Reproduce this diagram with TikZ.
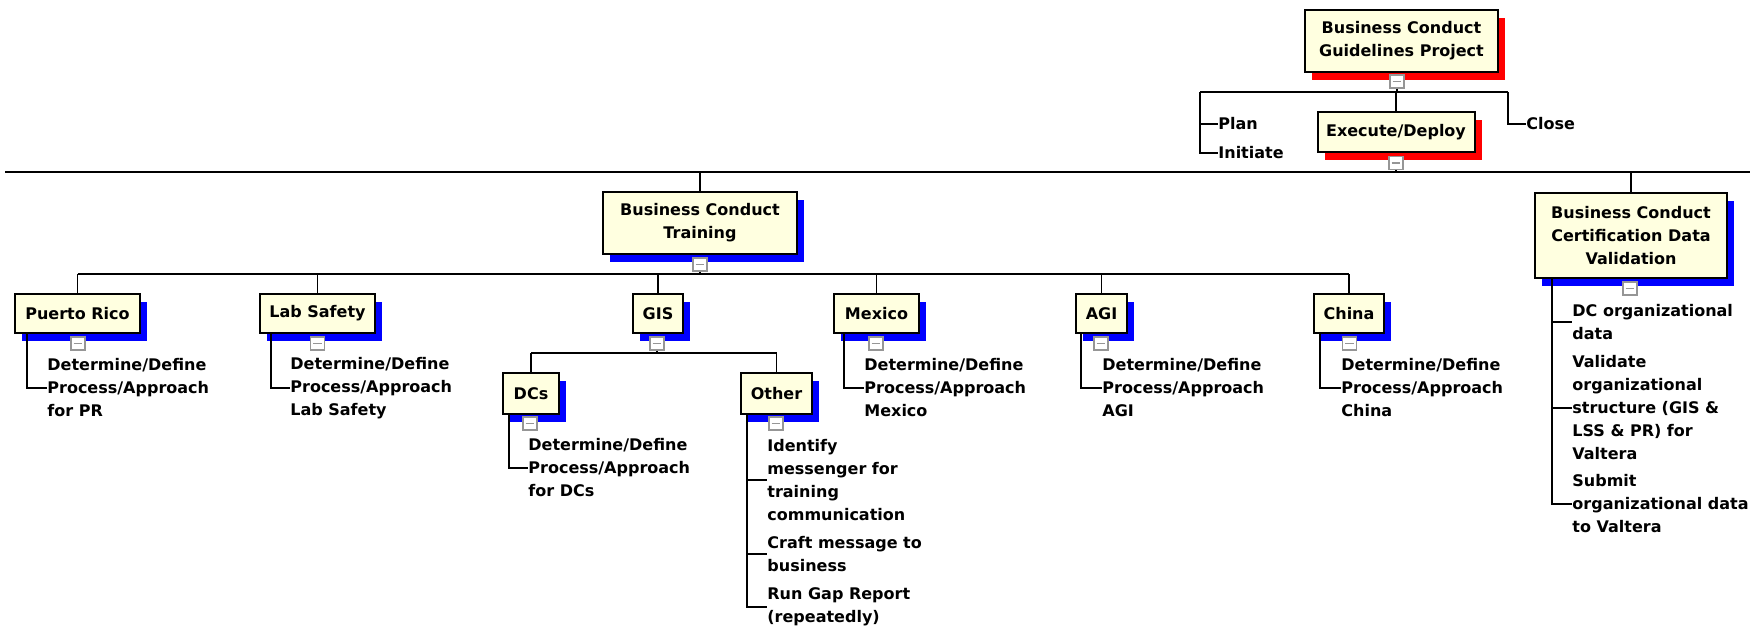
\documentclass[tikz,border=0pt]{standalone}
\usepackage{fontspec}
\setmainfont{DejaVu Sans}
\usetikzlibrary{shadows}
\definecolor{boxfill}{RGB}{255,255,224}
\definecolor{minusgray}{RGB}{150,150,150}
\begin{document}
\begin{tikzpicture}[x=0.5pt,y=-0.5pt,
  every node/.style={font=\bfseries\fontsize{8}{11.5}\selectfont},
  box/.style={draw=black, line width=1pt, fill=boxfill, inner sep=0pt, align=center},
  redbox/.style={box, general shadow={fill=red, shadow xshift=3.5pt, shadow yshift=-4pt}},
  bluebox/.style={box, general shadow={fill=blue, shadow xshift=3.5pt, shadow yshift=-4pt}},
  minus/.style={draw=minusgray, line width=0.7pt, fill=white, minimum width=7pt, minimum height=6.5pt, inner sep=0pt,
    path picture={\draw[line width=0.8pt] ([xshift=-2.2pt]path picture bounding box.center) -- ([xshift=2.2pt]path picture bounding box.center);}},
  leaf/.style={anchor=west, align=left, inner sep=0pt},
  conn/.style={line width=0.9pt, draw=black}]
\useasboundingbox (0,0) rectangle (1750,628);
\fill[white] (0,0) rectangle (1750,628);

% ---------- top level ----------
\node[redbox, minimum width=96.5pt, minimum height=31pt] (proj) at (1401.5,41) {Business Conduct\\Guidelines Project};
\node[minus] (mproj) at (1397,81.5) {};
\node[redbox, minimum width=78.5pt, minimum height=20pt] (exec) at (1396,132) {Execute/Deploy};
\node[minus] (mexec) at (1396,163) {};
\node[leaf] (plan) at (1218,124) {Plan};
\node[leaf] (init) at (1218,153) {Initiate};
\node[leaf] (close) at (1526,124) {Close};
\coordinate (pl) at (1200,92);
\coordinate (cl) at (1508,92);
\draw[conn] (pl) -- (cl);
\draw[conn] (mproj.south) -- (mproj.south |- pl);
\draw[conn] (exec.north) -- (exec.north |- pl);
\draw[conn] (pl) |- (plan.west);
\draw[conn] (pl) |- (init.west);
\draw[conn] (cl) |- (close.west);

% ---------- long line ----------
\coordinate (la) at (5,172);
\coordinate (lb) at (1750,172);
\draw[conn] (la) -- (lb);
\draw[conn] (mexec.south) -- (mexec.south |- la);

% ---------- second level ----------
\node[bluebox, minimum width=97pt, minimum height=31pt] (train) at (700,223) {Business Conduct\\Training};
\node[minus] (mtrain) at (700,264.5) {};
\node[bluebox, minimum width=96pt, minimum height=42.5pt] (cert) at (1631,235.5) {Business Conduct\\Certification Data\\Validation};
\node[minus] (mcert) at (1630,288.5) {};
\draw[conn] (train.north) -- (train.north |- la);
\draw[conn] (cert.north) -- (cert.north |- la);

% ---------- third level ----------
\node[bluebox, minimum width=62.5pt, minimum height=19.5pt] (pr) at (77.5,313.5) {Puerto Rico};
\node[bluebox, minimum width=57.5pt, minimum height=19.5pt] (lab) at (317.5,313.5) {Lab Safety};
\node[bluebox, minimum width=25pt, minimum height=19.5pt] (gis) at (658,313.5) {GIS};
\node[bluebox, minimum width=42.5pt, minimum height=19.5pt] (mex) at (876.5,313.5) {Mexico};
\node[bluebox, minimum width=25.5pt, minimum height=19.5pt] (agi) at (1101.5,313.5) {AGI};
\node[bluebox, minimum width=35pt, minimum height=19.5pt] (china) at (1349,313.5) {China};
\node[minus] (mpr) at (78,343.5) {};
\node[minus] (mlab) at (317.5,343.5) {};
\node[minus] (mgis) at (657,343.5) {};
\node[minus] (mmex) at (876,343.5) {};
\node[minus] (magi) at (1101,343.5) {};
\node[minus] (mchina) at (1349.5,343.5) {};
\coordinate (t1) at (77.5,274);
\coordinate (t2) at (1349,274);
\draw[conn] (t1) -- (t2);
\draw[conn] (mtrain.south) -- (mtrain.south |- t1);
\foreach \b in {pr,lab,gis,mex,agi,china}{\draw[conn] (\b.north) -- (\b.north |- t1);}

% ---------- GIS children ----------
\node[bluebox, minimum width=28pt, minimum height=20.5pt] (dcs) at (531,393.5) {DCs};
\node[bluebox, minimum width=35.5pt, minimum height=20.5pt] (other) at (776.5,393.5) {Other};
\node[minus] (mdcs) at (530,423.5) {};
\node[minus] (mother) at (776,423.5) {};
\coordinate (g1) at (531,353);
\coordinate (g2) at (776.5,353);
\draw[conn] (g1) -- (g2);
\draw[conn] (mgis.south) -- (mgis.south |- g1);
\draw[conn] (dcs.north) -- (dcs.north |- g1);
\draw[conn] (other.north) -- (other.north |- g1);

% ---------- leaves ----------
\node[leaf] (prl) at (47,388) {Determine/Define\\Process/Approach\\for PR};
\node[leaf] (labl) at (290,388) {Determine/Define\\Process/Approach\\Lab Safety};
\node[leaf] (dcsl) at (528,468) {Determine/Define\\Process/Approach\\for DCs};
\node[leaf] (mexl) at (864,388) {Determine/Define\\Process/Approach\\Mexico};
\node[leaf] (agil) at (1102,388) {Determine/Define\\Process/Approach\\AGI};
\node[leaf] (chinal) at (1341,388) {Determine/Define\\Process/Approach\\China};
\node[leaf] (o1) at (767,480) {Identify\\messenger for\\training\\communication};
\node[leaf] (o2) at (767,554) {Craft message to\\business};
\node[leaf] (o3) at (767,607) {Run Gap Report\\(repeatedly)};
\node[leaf] (c1) at (1572,322) {DC organizational\\data};
\node[leaf] (c2) at (1572,408) {Validate\\organizational\\structure (GIS \&\\LSS \& PR) for\\Valtera};
\node[leaf] (c3) at (1572,504) {Submit\\organizational data\\to Valtera};

\draw[conn] ([xshift=6.5pt]pr.south west) |- (prl.west);
\draw[conn] ([xshift=6pt]lab.south west) |- (labl.west);
\draw[conn] ([xshift=3.5pt]dcs.south west) |- (dcsl.west);
\draw[conn] ([xshift=5.5pt]mex.south west) |- (mexl.west);
\draw[conn] ([xshift=3pt]agi.south west) |- (agil.west);
\draw[conn] ([xshift=3.5pt]china.south west) |- (chinal.west);
\draw[conn] ([xshift=3.5pt]other.south west) |- (o1.west);
\draw[conn] ([xshift=3.5pt]other.south west) |- (o2.west);
\draw[conn] ([xshift=3.5pt]other.south west) |- (o3.west);
\draw[conn] ([xshift=9pt]cert.south west) |- (c1.west);
\draw[conn] ([xshift=9pt]cert.south west) |- (c2.west);
\draw[conn] ([xshift=9pt]cert.south west) |- (c3.west);
\end{tikzpicture}
\end{document}
